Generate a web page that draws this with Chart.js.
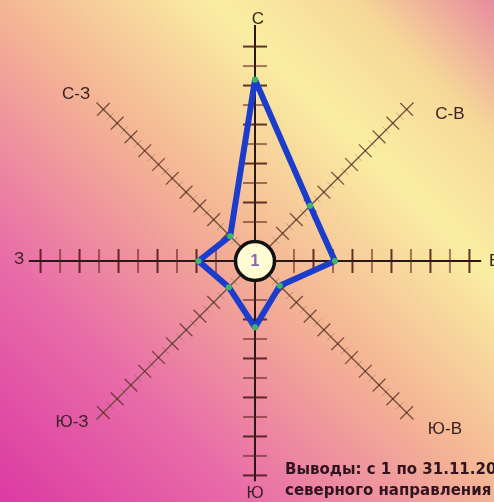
<!DOCTYPE html>
<html>
<head>
<meta charset="utf-8">
<script src="https://cdn.jsdelivr.net/npm/chart.js@4.4.0/dist/chart.umd.min.js"></script>
<style>
  html, body { margin: 0; padding: 0; overflow: hidden; }
  canvas { display: block; }
</style>
</head>
<body>
<canvas id="roseChart" width="494" height="502"></canvas>
<script>
// направления (по часовой стрелке от севера)
var directions = ['С', 'С-В', 'В', 'Ю-В', 'Ю', 'Ю-З', 'З', 'С-З'];
// число дней с ветром каждого направления
var windDays = [8.3, 3, 3.1, 0.8, 2.4, 0.9, 1.9, 0.8];
// штиль
var calmDays = 1;
// деления на осях
var tickValues = [1, 2, 3, 4, 5, 6, 7, 8, 9, 10];
var conclusion = ['Выводы: с 1 по 31.11.20', 'северного направления'];

// длина осей и место подписей (в единицах шкалы) + сдвиг подписи в пикселях
var axisEnd = [11.1, 10.5, 10.6, 10.5, 10.3, 10.5, 10.6, 10.5];
var labelValue = [11.4, 11.4, 11.3, 11.4, 10.9, 11.4, 11.1, 11.4];
var labelShift = [[3, 0], [24, 24], [0, 0], [19, -3], [0, 0], [-12, -10], [0, -2], [-8, 4]];

var bgPlugin = {
  id: 'bg',
  beforeDraw: function(chart) {
    var ctx = chart.ctx;
    var g = ctx.createLinearGradient(0, chart.height, chart.width, 0);
    g.addColorStop(0, '#dc3aa2');
    g.addColorStop(0.25, '#e86ca8');
    g.addColorStop(0.5, '#f4b494');
    g.addColorStop(0.72, '#faeea2');
    g.addColorStop(0.86, '#f6d898');
    g.addColorStop(1, '#e88c9e');
    ctx.save();
    ctx.fillStyle = g;
    ctx.fillRect(0, 0, chart.width, chart.height);
    ctx.restore();
  }
};

var axesPlugin = {
  id: 'roseAxes',
  beforeDatasetsDraw: function(chart) {
    var ctx = chart.ctx;
    var s = chart.scales.r;
    ctx.save();
    for (var i = 0; i < directions.length; i++) {
      var main = (i % 2 === 0);
      var end = s.getPointPositionForValue(i, axisEnd[i]);
      var ang = s.getIndexAngle(i) - Math.PI / 2;
      var px = -Math.sin(ang), py = Math.cos(ang);

      ctx.strokeStyle = main ? '#2a1818' : '#6a4a3a';
      ctx.lineWidth = main ? 2 : 1.2;
      ctx.beginPath();
      ctx.moveTo(s.xCenter, s.yCenter);
      ctx.lineTo(end.x, end.y);
      ctx.stroke();

      if (main) {
        for (var k = 0; k < tickValues.length; k++) {
          var p = s.getPointPositionForValue(i, tickValues[k]);
          ctx.strokeStyle = (k % 2 === 0) ? 'rgba(90,30,30,0.55)' : 'rgba(70,20,20,0.85)';
          ctx.lineWidth = 2;
          ctx.beginPath();
          ctx.moveTo(p.x - px * 12, p.y - py * 12);
          ctx.lineTo(p.x + px * 12, p.y + py * 12);
          ctx.stroke();
        }
      } else {
        for (var t = 0.5; t <= 10; t += 0.5) {
          var q = s.getPointPositionForValue(i, t);
          var big = (t % 1 === 0);
          var len = big ? 9 : 5;
          ctx.strokeStyle = big ? 'rgba(80,40,30,0.75)' : 'rgba(80,40,30,0.3)';
          ctx.lineWidth = big ? 1.3 : 1;
          ctx.beginPath();
          ctx.moveTo(q.x - px * len, q.y - py * len);
          ctx.lineTo(q.x + px * len, q.y + py * len);
          ctx.stroke();
        }
      }
    }
    ctx.restore();
  },
  afterDatasetsDraw: function(chart) {
    var ctx = chart.ctx;
    var s = chart.scales.r;
    ctx.save();

    // кружок штиля
    var rad = s.getDistanceFromCenterForValue(0);
    ctx.beginPath();
    ctx.arc(s.xCenter, s.yCenter, rad, 0, Math.PI * 2);
    ctx.fillStyle = '#fffbd2';
    ctx.fill();
    ctx.lineWidth = 3.5;
    ctx.strokeStyle = '#111';
    ctx.stroke();
    ctx.fillStyle = '#8a60b8';
    ctx.font = 'bold 16px "Liberation Sans", Arial, sans-serif';
    ctx.textAlign = 'center';
    ctx.textBaseline = 'middle';
    ctx.fillText(String(calmDays), s.xCenter, s.yCenter + 1);

    // подписи направлений
    ctx.fillStyle = '#3a2222';
    ctx.font = '17px "Liberation Sans", Arial, sans-serif';
    for (var i = 0; i < directions.length; i++) {
      var p = s.getPointPositionForValue(i, labelValue[i]);
      ctx.fillText(directions[i], p.x + labelShift[i][0], p.y + labelShift[i][1]);
    }

    // вывод
    ctx.textAlign = 'left';
    ctx.textBaseline = 'alphabetic';
    ctx.fillStyle = '#301420';
    ctx.font = 'bold 15px "DejaVu Sans", Verdana, sans-serif';
    ctx.fillText(conclusion[0], 285, 474);
    ctx.fillText(conclusion[1], 285, 495);
    ctx.restore();
  }
};

var myChart = new Chart(document.getElementById('roseChart'), {
  type: 'radar',
  data: {
    labels: directions,
    datasets: [{
      label: 'Роза ветров',
      data: windDays,
      borderColor: '#1c3ccc',
      backgroundColor: 'rgba(0,0,0,0)',
      borderWidth: 6,
      borderJoinStyle: 'round',
      fill: false,
      tension: 0,
      pointRadius: 3,
      pointBorderWidth: 0,
      pointBackgroundColor: '#3cb868'
    }]
  },
  options: {
    responsive: false,
    animation: false,
    devicePixelRatio: 1,
    layout: { padding: { left: 16, right: 0, top: 20, bottom: 0 } },
    plugins: { legend: { display: false }, tooltip: { enabled: false } },
    scales: {
      r: {
        min: -1,
        max: 11.26,
        grid: { display: false },
        angleLines: { display: false },
        pointLabels: { display: false },
        ticks: { display: false }
      }
    }
  },
  plugins: [bgPlugin, axesPlugin]
});
</script>
</body>
</html>
